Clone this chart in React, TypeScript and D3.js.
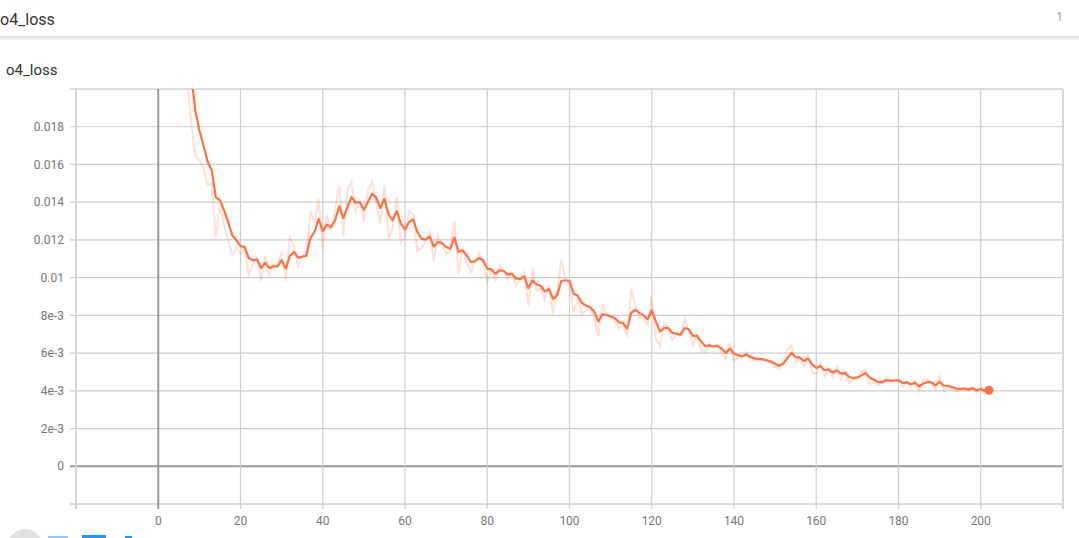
import React from "react";
import * as d3 from "d3";

// chart texts
const cardTitle = "o4_loss";
const runCount = "1";

// axis ticks
const xTicks = [0, 20, 40, 60, 80, 100, 120, 140, 160, 180, 200];
const xGrid = [-20, 0, 20, 40, 60, 80, 100, 120, 140, 160, 180, 200, 220];
const yTicks = [0, 0.002, 0.004, 0.006, 0.008, 0.01, 0.012, 0.014, 0.016, 0.018];
const yTickLabels = ["0", "2e-3", "4e-3", "6e-3", "8e-3", "0.01", "0.012", "0.014", "0.016", "0.018"];
const yGrid = [-0.002, 0, 0.002, 0.004, 0.006, 0.008, 0.01, 0.012, 0.014, 0.016, 0.018, 0.02];

// raw loss per step (faint line)
const rawLoss = [
  0.0310, 0.0290, 0.0270, 0.0260, 0.0245, 0.0235, 0.0222, 0.0205, 0.0183,
  0.01650, 0.01622, 0.01581, 0.01488, 0.01498, 0.01214, 0.01384, 0.01277, 0.01202, 0.01117, 0.01159,
  0.01123, 0.01153, 0.01017, 0.01074, 0.01105, 0.00982, 0.01118, 0.01010, 0.01074, 0.01060,
  0.01140, 0.00982, 0.01216, 0.01168, 0.01061, 0.01119, 0.01121, 0.01353, 0.01290, 0.01417,
  0.01150, 0.01332, 0.01249, 0.01358, 0.01489, 0.01223, 0.01461, 0.01507, 0.01352, 0.01407,
  0.01299, 0.01463, 0.01511, 0.01393, 0.01287, 0.01492, 0.01208, 0.01259, 0.01427, 0.01186,
  0.01211, 0.01354, 0.01330, 0.01142, 0.01155, 0.01192, 0.01244, 0.01086, 0.01225, 0.01177,
  0.01129, 0.01140, 0.01301, 0.01022, 0.01159, 0.01078, 0.01031, 0.01091, 0.01131, 0.01074,
  0.00982, 0.01038, 0.00987, 0.01066, 0.01029, 0.00988, 0.01029, 0.00956, 0.00990, 0.01028,
  0.00852, 0.01048, 0.00931, 0.00947, 0.00882, 0.00960, 0.00808, 0.00935, 0.01096, 0.00992,
  0.00976, 0.00815, 0.00888, 0.00809, 0.00829, 0.00834, 0.00787, 0.00689, 0.00863, 0.00796,
  0.00785, 0.00773, 0.00729, 0.00756, 0.00685, 0.00938, 0.00856, 0.00788, 0.00781, 0.00748,
  0.00899, 0.00680, 0.00636, 0.00760, 0.00733, 0.00668, 0.00697, 0.00691, 0.00786, 0.00716,
  0.00639, 0.00694, 0.00615, 0.00604, 0.00646, 0.00626, 0.00643, 0.00603, 0.00567, 0.00659,
  0.00557, 0.00575, 0.00576, 0.00606, 0.00560, 0.00562, 0.00565, 0.00564, 0.00555, 0.00545,
  0.00528, 0.00517, 0.00561, 0.00619, 0.00642, 0.00546, 0.00572, 0.00531, 0.00591, 0.00496,
  0.00491, 0.00549, 0.00475, 0.00522, 0.00469, 0.00529, 0.00464, 0.00501, 0.00440, 0.00461,
  0.00473, 0.00500, 0.00515, 0.00433, 0.00443, 0.00429, 0.00442, 0.00473, 0.00451, 0.00454,
  0.00459, 0.00421, 0.00450, 0.00420, 0.00453, 0.00397, 0.00459, 0.00461, 0.00442, 0.00405,
  0.00474, 0.00397, 0.00427, 0.00410, 0.00400, 0.00407, 0.00415, 0.00402, 0.00421, 0.00388,
  0.00421, 0.00383, 0.00409,
];

// smoothed loss per step (bold line)
const smoothedLoss = [
  0.03100, 0.02975, 0.02835, 0.02727, 0.02607, 0.02499, 0.02384, 0.02248, 0.02080,
  0.01887, 0.01781, 0.01701, 0.01616, 0.01569, 0.01427, 0.01410, 0.01357, 0.01295, 0.01224, 0.01198,
  0.01168, 0.01162, 0.01104, 0.01092, 0.01097, 0.01051, 0.01078, 0.01051, 0.01060, 0.01060,
  0.01092, 0.01048, 0.01115, 0.01136, 0.01106, 0.01111, 0.01115, 0.01210, 0.01242, 0.01312,
  0.01247, 0.01281, 0.01268, 0.01304, 0.01378, 0.01316, 0.01374, 0.01427, 0.01397, 0.01401,
  0.01360, 0.01401, 0.01445, 0.01424, 0.01369, 0.01418, 0.01334, 0.01304, 0.01353, 0.01286,
  0.01256, 0.01295, 0.01309, 0.01242, 0.01207, 0.01201, 0.01218, 0.01165, 0.01189, 0.01184,
  0.01162, 0.01153, 0.01212, 0.01136, 0.01145, 0.01118, 0.01083, 0.01086, 0.01104, 0.01092,
  0.01048, 0.01044, 0.01021, 0.01039, 0.01035, 0.01016, 0.01021, 0.00995, 0.00993, 0.01007,
  0.00945, 0.00986, 0.00964, 0.00957, 0.00927, 0.00940, 0.00887, 0.00906, 0.00982, 0.00986,
  0.00982, 0.00915, 0.00904, 0.00866, 0.00851, 0.00844, 0.00821, 0.00768, 0.00806, 0.00802,
  0.00795, 0.00786, 0.00763, 0.00760, 0.00730, 0.00813, 0.00830, 0.00813, 0.00800, 0.00779,
  0.00827, 0.00768, 0.00715, 0.00733, 0.00733, 0.00707, 0.00703, 0.00698, 0.00733, 0.00726,
  0.00691, 0.00692, 0.00661, 0.00638, 0.00641, 0.00635, 0.00638, 0.00624, 0.00601, 0.00624,
  0.00597, 0.00588, 0.00583, 0.00592, 0.00579, 0.00572, 0.00569, 0.00567, 0.00562, 0.00555,
  0.00544, 0.00533, 0.00544, 0.00574, 0.00601, 0.00579, 0.00576, 0.00558, 0.00571, 0.00541,
  0.00521, 0.00532, 0.00509, 0.00514, 0.00496, 0.00509, 0.00491, 0.00495, 0.00473, 0.00468,
  0.00470, 0.00482, 0.00495, 0.00470, 0.00459, 0.00447, 0.00445, 0.00456, 0.00454, 0.00454,
  0.00456, 0.00442, 0.00445, 0.00435, 0.00442, 0.00424, 0.00438, 0.00447, 0.00445, 0.00429,
  0.00447, 0.00427, 0.00427, 0.00420, 0.00412, 0.00410, 0.00412, 0.00408, 0.00413, 0.00403,
  0.00410, 0.00399, 0.00403,
];

const W = 1079;
const H = 538;
const left = 76;
const right = 1063;
const top = 89;
const bottom = 504;
const lineColor = "#ff7043";
const font = "Roboto, 'Noto Sans', sans-serif";

export default function App() {
  const x = d3.scaleLinear().domain([-20, 220]).range([left, right]);
  const y = d3.scaleLinear().domain([-0.002, 0.02]).range([bottom, top]);

  const line = d3
    .line<number>()
    .x((d, i) => x(i))
    .y((d) => y(d));

  const lastStep = smoothedLoss.length - 1;
  const isEdge = (v: number, arr: number[]) => v === arr[0] || v === arr[arr.length - 1];

  return (
    <svg
      width={W}
      height={H}
      style={{ position: "absolute", left: 0, top: 0, background: "#fff" }}
      fontFamily={font}
    >
      <defs>
        <linearGradient id="hdrShadow" x1="0" y1="0" x2="0" y2="1">
          <stop offset="0" stopColor="#000" stopOpacity={0.13} />
          <stop offset="1" stopColor="#000" stopOpacity={0} />
        </linearGradient>
        <clipPath id="plotClip">
          <rect x={left} y={top} width={right - left} height={bottom - top} />
        </clipPath>
      </defs>

      {/* header bar */}
      <rect x={0} y={0} width={W} height={36} fill="#fff" />
      <rect x={0} y={36} width={W} height={5} fill="url(#hdrShadow)" />
      <text x={0} y={25} fontSize={16} fill="#333">{cardTitle}</text>
      <text x={1063} y={21} fontSize={12} fill="#a0a0a0" textAnchor="end">{runCount}</text>

      {/* card title */}
      <text x={6} y={75} fontSize={15} fill="#333">{cardTitle}</text>

      {/* grid */}
      {yGrid.map((v) => (
        <line
          key={"gy" + v}
          x1={left - 6}
          x2={right}
          y1={y(v)}
          y2={y(v)}
          stroke={v === 0 ? "#9a9a9a" : isEdge(v, yGrid) ? "#dcdcdc" : "#cccccc"}
          strokeWidth={v === 0 || isEdge(v, yGrid) ? 2 : 1.2}
        />
      ))}
      {xGrid.map((v) => (
        <line
          key={"gx" + v}
          x1={x(v)}
          x2={x(v)}
          y1={top}
          y2={bottom + 5}
          stroke={v === 0 ? "#9a9a9a" : isEdge(v, xGrid) ? "#d6d6d6" : "#cfcfcf"}
          strokeWidth={v === 0 || isEdge(v, xGrid) ? 2 : 1.2}
        />
      ))}

      {/* tick labels */}
      {yTicks.map((v, i) => (
        <text
          key={"ty" + v}
          x={64}
          y={y(v)}
          dy="0.35em"
          textAnchor="end"
          fontSize={12}
          fill="#777"
        >
          {yTickLabels[i]}
        </text>
      ))}
      {xTicks.map((v) => (
        <text key={"tx" + v} x={x(v)} y={525} textAnchor="middle" fontSize={12} fill="#777">
          {v}
        </text>
      ))}

      {/* series */}
      <g clipPath="url(#plotClip)">
        <path d={line(rawLoss) || ""} fill="none" stroke={lineColor} strokeOpacity={0.22} strokeWidth={2} />
        <path d={line(smoothedLoss) || ""} fill="none" stroke={lineColor} strokeWidth={2.2} strokeLinejoin="round" />
      </g>
      <circle cx={x(lastStep)} cy={y(smoothedLoss[lastStep])} r={4.5} fill={lineColor} />

      {/* toolbar icons, cut off by the window */}
      <circle cx={25} cy={546} r={17} fill="#e0e0e0" />
      <rect x={48} y={536} width={20} height={10} fill="#90caf9" />
      <rect x={82} y={535} width={24} height={10} fill="#2196f3" />
      <rect x={125} y={536} width={7} height={10} fill="#2196f3" />
    </svg>
  );
}
